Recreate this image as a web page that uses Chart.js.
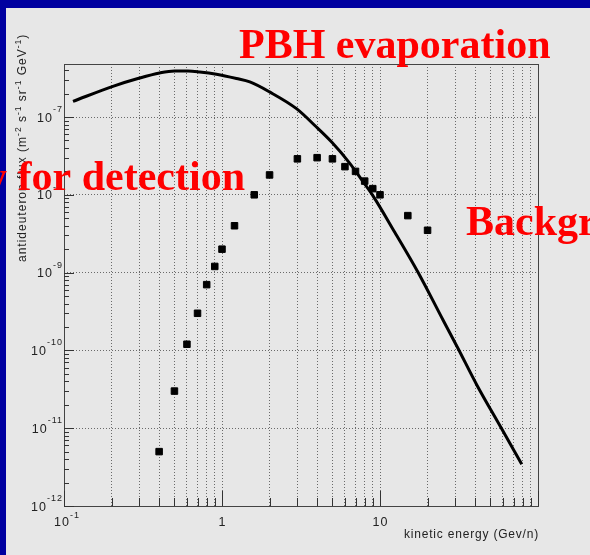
<!DOCTYPE html>
<html>
<head>
<meta charset="utf-8">
<script src="https://cdn.jsdelivr.net/npm/chart.js@4.4.1/dist/chart.umd.min.js"></script>
<style>
  html, body { margin: 0; padding: 0; background: #0000a0; }
  #wrap { width: 590px; height: 555px; }
</style>
</head>
<body>
<div id="wrap"><canvas id="fluxChart" width="590" height="555"></canvas></div>
<script>
// PBH evaporation curve (kinetic energy in GeV/n, flux)
const curveEnergy = [0.114, 0.204, 0.301, 0.403, 0.501, 0.609, 0.722, 0.922, 1.234, 1.5, 2.0, 2.96, 3.96, 4.96, 6.44, 7.78, 9.03, 12.4, 17.4, 25.1, 30.9, 41.0, 58.3, 78.9];
const curveFlux = [1.59e-7, 2.48e-7, 3.17e-7, 3.68e-7, 3.90e-7, 3.90e-7, 3.79e-7, 3.54e-7, 3.12e-7, 2.82e-7, 2.10e-7, 1.28e-7, 7.43e-8, 4.73e-8, 2.54e-8, 1.49e-8, 9.7e-9, 3.3e-9, 1.01e-9, 2.44e-10, 1.1e-10, 3.6e-11, 1.02e-11, 3.43e-12];

// background antideuterons
const bgEnergy = [0.4, 0.5, 0.6, 0.7, 0.8, 0.9, 1.0, 1.2, 1.6, 2, 3, 4, 5, 6, 7, 8, 9, 10, 15, 20];
const bgFlux = [5.0e-12, 3.0e-11, 1.2e-10, 3.0e-10, 7.0e-10, 1.2e-9, 2.0e-9, 4.0e-9, 1.0e-8, 1.8e-8, 2.9e-8, 3.0e-8, 2.9e-8, 2.3e-8, 2.0e-8, 1.5e-8, 1.2e-8, 1.0e-8, 5.4e-9, 3.5e-9];

// axis labels
const xTickValues = [0.1, 1, 10];
const xTickLabels = [['10', '-1'], ['1', ''], ['10', '']];
const yTickValues = [1e-12, 1e-11, 1e-10, 1e-9, 1e-8, 1e-7];
const yTickLabels = [['10', '-12'], ['10', '-11'], ['10', '-10'], ['10', '-9'], ['10', '-8'], ['10', '-7']];

const xMin = 0.1, xMax = 100, yMin = 1e-12, yMax = 4.8e-7;

// log minor positions
function logSteps(lo, hi) {
    const out = [];
    for (let d = lo; d < hi * 1.0001; d *= 10) {
        for (let k = 1; k < 10; k++) {
            const v = +(k * d).toPrecision(3);
            if (v >= lo && v <= hi) out.push(v);
        }
    }
    return out;
}
const xMinor = logSteps(0.1, 100).concat([100]);
const yMinor = logSteps(1e-12, 4.8e-7);

const sansFont = '"Liberation Sans", Arial, sans-serif';

const decor = {
    id: 'decor',
    beforeDraw(chart) {
        const ctx = chart.ctx;
        ctx.save();
        ctx.fillStyle = '#0000a0';
        ctx.fillRect(0, 0, 590, 555);
        ctx.fillStyle = '#e7e7e7';
        ctx.fillRect(6, 8, 584, 547);
        ctx.restore();
    },
    afterDraw(chart) {
        const ctx = chart.ctx;
        const area = chart.chartArea;
        const xs = chart.scales.x;
        const ys = chart.scales.y;
        ctx.save();

        // frame
        ctx.strokeStyle = '#444';
        ctx.lineWidth = 1;
        ctx.strokeRect(area.left + 0.5, area.top + 0.5, area.right - area.left, area.bottom - area.top);

        // tick marks, inside the frame
        ctx.strokeStyle = '#333';
        ctx.beginPath();
        xMinor.forEach(v => {
            const px = Math.round(xs.getPixelForValue(v)) + 0.5;
            const major = Math.abs(Math.log10(v) - Math.round(Math.log10(v))) < 1e-6;
            ctx.moveTo(px, area.bottom);
            ctx.lineTo(px, area.bottom - (major ? 15 : 8));
        });
        yMinor.forEach(v => {
            const py = Math.round(ys.getPixelForValue(v)) + 0.5;
            const major = Math.abs(Math.log10(v) - Math.round(Math.log10(v))) < 1e-6;
            ctx.moveTo(area.left, py);
            ctx.lineTo(area.left + (major ? 10 : 5), py);
        });
        ctx.stroke();

        // tick labels with exponents
        ctx.fillStyle = '#222';
        ctx.textBaseline = 'alphabetic';
        ctx.letterSpacing = '1px';
        xTickValues.forEach((v, i) => {
            const [base, exp] = xTickLabels[i];
            ctx.font = '12.5px ' + sansFont;
            const bw = ctx.measureText(base).width;
            ctx.font = '9px ' + sansFont;
            const ew = exp ? ctx.measureText(exp).width : 0;
            const px = xs.getPixelForValue(v);
            const x0 = px - (bw + ew) / 2 + (exp ? 3 : 0.5);
            ctx.font = '12.5px ' + sansFont;
            ctx.textAlign = 'left';
            ctx.fillText(base, x0, 526);
            if (exp) {
                ctx.font = '9px ' + sansFont;
                ctx.fillText(exp, x0 + bw, 518);
            }
        });
        yTickValues.forEach((v, i) => {
            const [base, exp] = yTickLabels[i];
            const py = ys.getPixelForValue(v);
            ctx.font = '9px ' + sansFont;
            const ew = ctx.measureText(exp).width;
            ctx.textAlign = 'right';
            ctx.fillText(exp, 63, py - 5);
            ctx.font = '12.5px ' + sansFont;
            ctx.fillText(base, 63 - ew, py + 4.5);
        });

        // x title
        ctx.font = '12px ' + sansFont;
        ctx.letterSpacing = '0.8px';
        ctx.textAlign = 'right';
        ctx.fillText('kinetic energy (Gev/n)', 539, 538);

        // y title, rotated, made of pieces with superscripts
        const parts = [
            ['antideuteron flux (m', 0], ['-2', 1], [' s', 0], ['-1', 1], [' sr', 0], ['-1', 1], [' GeV', 0], ['-1', 1], [')', 0]
        ];
        ctx.save();
        ctx.translate(26, 262);
        ctx.rotate(-Math.PI / 2);
        ctx.textAlign = 'left';
        ctx.letterSpacing = '1px';
        let cx = 0;
        parts.forEach(([t, sup]) => {
            ctx.font = (sup ? '8.5px ' : '12px ') + sansFont;
            ctx.fillText(t, cx, sup ? -5 : 0);
            cx += ctx.measureText(t).width;
        });
        ctx.restore();

        // slide annotations in red
        ctx.letterSpacing = '0px';
        ctx.fillStyle = '#ff0000';
        ctx.font = 'bold 42px "Liberation Serif", "Times New Roman", serif';
        ctx.textAlign = 'left';
        ctx.fillText('PBH evaporation', 239, 58);
        ctx.textAlign = 'right';
        ctx.fillText('y for detection', 245, 190);
        ctx.textAlign = 'left';
        ctx.fillText('Background', 466, 235);

        ctx.restore();
    }
};

new Chart(document.getElementById('fluxChart'), {
    type: 'scatter',
    data: {
        datasets: [
            {
                label: 'PBH evaporation',
                data: curveEnergy.map((e, i) => ({ x: e, y: curveFlux[i] })),
                showLine: true,
                borderColor: '#000',
                borderWidth: 3,
                pointRadius: 0,
                cubicInterpolationMode: 'monotone',
            },
            {
                label: 'Background',
                data: bgEnergy.map((e, i) => ({ x: e, y: bgFlux[i] })),
                pointStyle: 'rect',
                pointRadius: 4.6,
                backgroundColor: '#000',
                borderColor: '#000',
                borderWidth: 1,
            },
        ],
    },
    options: {
        responsive: false,
        animation: false,
        layout: { padding: { left: 64, right: 52, top: 64, bottom: 49 } },
        plugins: { legend: { display: false }, tooltip: { enabled: false } },
        scales: {
            x: {
                type: 'logarithmic',
                min: xMin,
                max: xMax,
                bounds: 'data',
                afterBuildTicks: (axis) => {
                    axis.ticks = xMinor.filter(v => v > xMin && v < xMax).map(v => ({ value: v }));
                },
                ticks: { display: false },
                grid: { color: '#6a6a6a', lineWidth: 1, drawTicks: false },
                border: { display: false, dash: [1, 2] },
            },
            y: {
                type: 'logarithmic',
                min: yMin,
                max: yMax,
                bounds: 'data',
                afterBuildTicks: (axis) => {
                    axis.ticks = yTickValues.filter(v => v > yMin).map(v => ({ value: v }));
                },
                ticks: { display: false },
                grid: { color: '#6a6a6a', lineWidth: 1, drawTicks: false },
                border: { display: false, dash: [1, 2] },
            },
        },
    },
    plugins: [decor],
});
</script>
</body>
</html>
